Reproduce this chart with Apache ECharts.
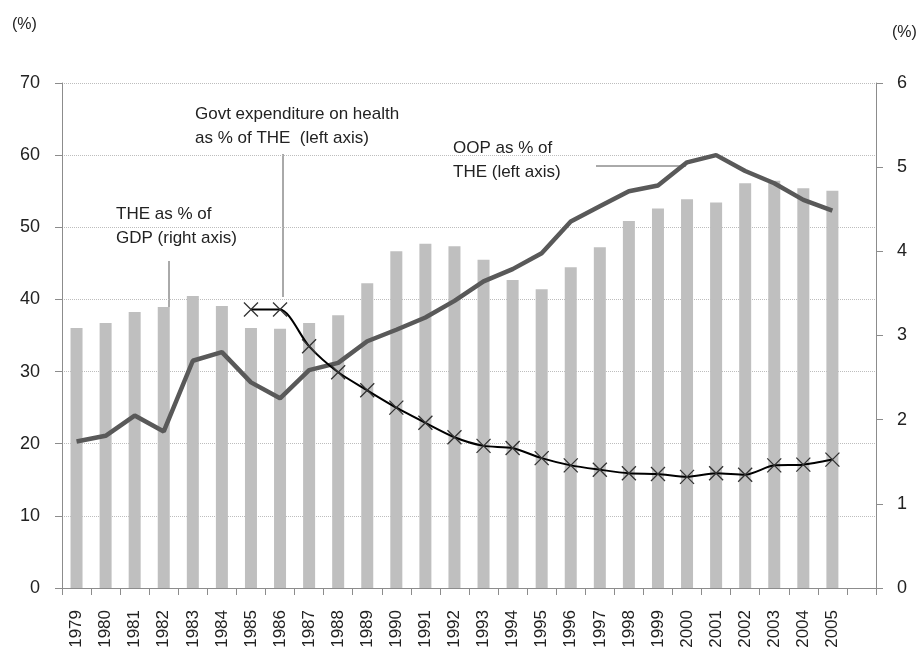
<!DOCTYPE html>
<html>
<head>
<meta charset="utf-8">
<script src="https://cdn.jsdelivr.net/npm/echarts@6/dist/echarts.min.js"></script>
<style>
html, body { margin: 0; padding: 0; background: #fff; }
#chart { width: 918px; height: 650px; }
</style>
</head>
<body>
<div id="chart"></div>
<script>
// years (last slot is empty, as in the original)
var years = ['1979','1980','1981','1982','1983','1984','1985','1986','1987','1988','1989','1990','1991','1992',
             '1993','1994','1995','1996','1997','1998','1999','2000','2001','2002','2003','2004','2005',''];
// THE as % of GDP (right axis)
var theGdp = [3.09,3.15,3.28,3.34,3.47,3.35,3.09,3.08,3.15,3.24,3.62,4.00,4.09,4.06,
              3.90,3.66,3.55,3.81,4.05,4.36,4.51,4.62,4.58,4.81,4.84,4.75,4.72,null];
// OOP as % of THE (left axis)
var oop = [20.3,21.1,23.9,21.7,31.5,32.7,28.5,26.3,30.2,31.2,34.2,35.8,37.5,39.8,
           42.5,44.2,46.4,50.8,52.9,55.0,55.8,59.0,60.0,57.8,56.1,53.8,52.3,null];
// Govt expenditure on health as % of THE (left axis)
var govt = [null,null,null,null,null,null,38.6,38.6,33.5,29.9,27.4,25.0,22.9,20.9,
            19.7,19.4,18.0,17.0,16.4,15.9,15.8,15.4,15.9,15.7,17.0,17.1,17.8,null];

var font = "'Liberation Sans', Arial, sans-serif";
var textColor = '#222';
var axisColor = '#8c8c8c';

var myChart = echarts.init(document.getElementById('chart'));

function note(x, y, txt) {
    return {
        type: 'text', left: x, top: y,
        style: { text: txt, font: '17px ' + font, fill: textColor, lineHeight: 24 }
    };
}
function lead(x1, y1, x2, y2) {
    return {
        type: 'line',
        shape: { x1: x1, y1: y1, x2: x2, y2: y2 },
        style: { stroke: '#555', lineWidth: 1 }
    };
}

var option = {
    animation: false,
    textStyle: { fontFamily: font },
    grid: { left: 62, right: 42, top: 83, bottom: 62, containLabel: false, outerBoundsMode: 'none' },
    xAxis: {
        type: 'category',
        data: years,
        boundaryGap: true,
        axisLine: { lineStyle: { color: axisColor, width: 1 } },
        axisTick: { show: true, length: 7, interval: 0, lineStyle: { color: axisColor } },
        axisLabel: { interval: 0, rotate: 90, margin: 22, fontSize: 17, color: textColor, fontFamily: font }
    },
    yAxis: [
        {
            type: 'value', min: 0, max: 70, interval: 10,
            axisLine: { show: true, lineStyle: { color: axisColor } },
            axisTick: { show: true, length: 7, lineStyle: { color: axisColor } },
            axisLabel: { margin: 22, fontSize: 18, color: textColor, fontFamily: font },
            splitLine: { show: true, lineStyle: { color: '#bdbdbd', type: 'dotted', width: 1 } }
        },
        {
            type: 'value', min: 0, max: 6, interval: 1, position: 'right',
            axisLine: { show: true, lineStyle: { color: axisColor } },
            axisTick: { show: true, length: 7, lineStyle: { color: axisColor } },
            axisLabel: { margin: 21, fontSize: 18, color: textColor, fontFamily: font },
            splitLine: { show: false }
        }
    ],
    series: [
        {
            name: 'THE as % of GDP',
            type: 'bar',
            yAxisIndex: 1,
            data: theGdp,
            barWidth: 12,
            itemStyle: { color: '#bfbfbf' }
        },
        {
            name: 'OOP as % of THE',
            type: 'line',
            yAxisIndex: 0,
            data: oop,
            showSymbol: false,
            symbol: 'none',
            lineStyle: { color: '#595959', width: 4.5 }
        },
        {
            name: 'Govt expenditure on health as % of THE',
            type: 'line',
            yAxisIndex: 0,
            data: govt,
            smooth: 0.25,
            symbol: 'path://M0,0L10,10M10,0L0,10',
            symbolSize: 14,
            itemStyle: { color: 'none', borderColor: '#333', borderWidth: 1.3 },
            lineStyle: { color: '#000', width: 2 }
        }
    ],
    graphic: [
        { type: 'text', left: 12, top: 17, style: { text: '(%)', font: '16px ' + font, fill: textColor } },
        { type: 'text', left: 892, top: 25, style: { text: '(%)', font: '16px ' + font, fill: textColor } },
        note(195, 102, 'Govt expenditure on health\nas % of THE  (left axis)'),
        note(453, 136, 'OOP as % of\nTHE (left axis)'),
        note(116, 202, 'THE as % of\nGDP (right axis)'),
        lead(283, 154, 283, 297),
        lead(169, 261, 169, 307),
        lead(596, 166, 686, 166)
    ]
};
myChart.setOption(option);
</script>
</body>
</html>
